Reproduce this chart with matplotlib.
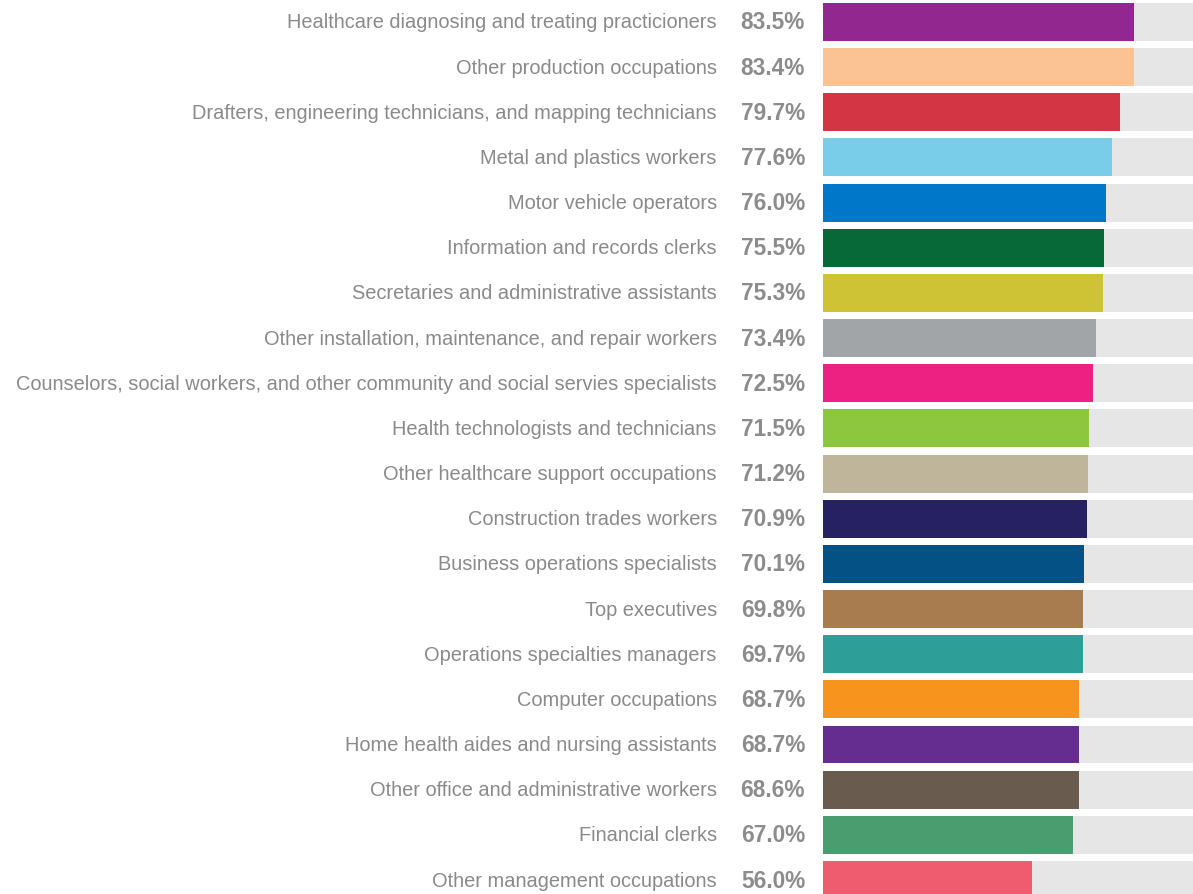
import matplotlib.pyplot as plt

categories = [
    "Healthcare diagnosing and treating practicioners",
    "Other production occupations",
    "Drafters, engineering technicians, and mapping technicians",
    "Metal and plastics workers",
    "Motor vehicle operators",
    "Information and records clerks",
    "Secretaries and administrative assistants",
    "Other installation, maintenance, and repair workers",
    "Counselors, social workers, and other community and social servies specialists",
    "Health technologists and technicians",
    "Other healthcare support occupations",
    "Construction trades workers",
    "Business operations specialists",
    "Top executives",
    "Operations specialties managers",
    "Computer occupations",
    "Home health aides and nursing assistants",
    "Other office and administrative workers",
    "Financial clerks",
    "Other management occupations",
]
values = [83.5, 83.4, 79.7, 77.6, 76.0, 75.5, 75.3, 73.4, 72.5, 71.5,
          71.2, 70.9, 70.1, 69.8, 69.7, 68.7, 68.7, 68.6, 67.0, 56.0]
colors = ["#92278f", "#fbc393", "#d43545", "#7acde9", "#0077c8",
          "#066937", "#cdc334", "#a1a5a8", "#ec2181", "#8dc63f",
          "#bfb59a", "#262262", "#045185", "#a97c50", "#2e9f98",
          "#f7941d", "#662d91", "#6a5b4f", "#4a9d6f", "#ef5b6f"]

plt.rcParams["font.family"] = ["Liberation Sans", "DejaVu Sans"]

W, H = 1193, 895
fig = plt.figure(figsize=(W / 100, H / 100), dpi=100)
ax = fig.add_axes([823 / W, 0, (W - 823) / W, 1])

ypos = list(range(len(categories)))
ax.barh(ypos, [100] * len(values), height=0.84, color="#e6e6e6")
ax.barh(ypos, values, height=0.84, color=colors)

for y, cat, v in zip(ypos, categories, values):
    ax.text(-4.8, y, f"{v:.1f}%", ha="right", va="center", fontsize=16.3,
            fontweight="bold", color="#8c8c8c", clip_on=False)
    ax.text(-28.5, y, cat, ha="right", va="center", fontsize=14.4,
            color="#8a8a8a", clip_on=False)

ax.set_xlim(0, (W - 823) / 3.725)
ax.set_ylim(19.31, -0.509)
ax.axis("off")

fig.savefig("out.png", dpi=100)
